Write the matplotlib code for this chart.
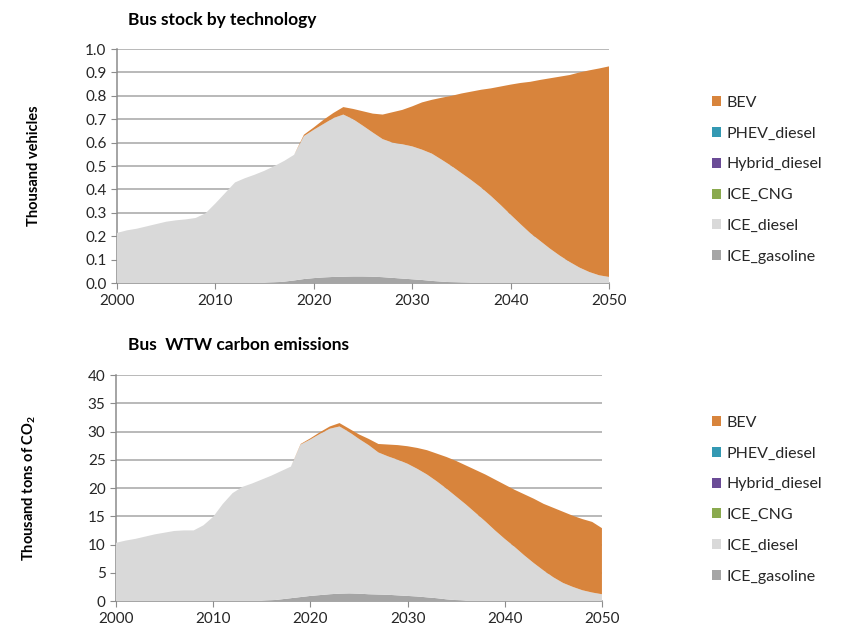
import numpy as np
import matplotlib
matplotlib.use("Agg")
import matplotlib.pyplot as plt
from matplotlib.patches import Patch

plt.rcParams['font.family'] = ['Lato', 'DejaVu Sans']

years = list(range(2000, 2051))

# bus stock, thousand vehicles
stock_gasoline = [0]*16 + [0.002, 0.006, 0.011, 0.017, 0.021, 0.024, 0.026, 0.027, 0.028, 0.028,
                           0.027, 0.025, 0.022, 0.019, 0.016, 0.013, 0.009, 0.006, 0.003, 0.001] + [0]*15
stock_diesel = [0.214, 0.225, 0.232, 0.242, 0.252, 0.262, 0.268, 0.272, 0.278, 0.298,
                0.340, 0.385, 0.430, 0.448, 0.463, 0.480, 0.498, 0.516, 0.537, 0.611,
                0.634, 0.656, 0.679, 0.693, 0.672, 0.644, 0.616, 0.590, 0.578, 0.574,
                0.568, 0.557, 0.544, 0.521, 0.497, 0.469, 0.440, 0.408, 0.372, 0.333,
                0.292, 0.252, 0.213, 0.180, 0.147, 0.117, 0.090, 0.066, 0.047, 0.033,
                0.026]
stock_cng = [0]*51
stock_hybrid = [0]*51
stock_phev = [0]*51
stock_bev = [0]*19 + [0.006, 0.010, 0.018, 0.022, 0.032, 0.044, 0.062, 0.081, 0.105, 0.130, 0.147,
                      0.171, 0.202, 0.230, 0.265, 0.300, 0.340, 0.378, 0.418, 0.460, 0.507,
                      0.556, 0.603, 0.647, 0.688, 0.728, 0.765, 0.799, 0.834, 0.862, 0.884,
                      0.900]

# well-to-wheel emissions, thousand tons CO2
co2_gasoline = [0]*16 + [0.1, 0.3, 0.5, 0.7, 0.9, 1.05, 1.2, 1.3, 1.35, 1.3,
                         1.2, 1.15, 1.1, 1.0, 0.9, 0.8, 0.65, 0.5, 0.3, 0.15] + [0]*15
co2_diesel = [10.3, 10.7, 11.0, 11.4, 11.8, 12.1, 12.4, 12.5, 12.5, 13.4,
              14.9, 17.2, 19.1, 20.2, 20.8, 21.5, 22.1, 22.7, 23.3, 27.0,
              27.7, 28.55, 29.3, 29.6, 28.55, 27.4, 26.4, 25.15, 24.5, 24.0,
              23.4, 22.6, 21.75, 20.7, 19.6, 18.35, 17.1, 15.6, 14.1, 12.5,
              11.0, 9.6, 8.1, 6.7, 5.4, 4.2, 3.2, 2.5, 1.9, 1.5,
              1.2]
co2_cng = [0]*51
co2_hybrid = [0]*51
co2_phev = [0]*51
co2_bev = [0]*19 + [0.1, 0.2, 0.3, 0.4, 0.6, 0.6, 0.8, 1.1, 1.5, 2.1, 2.6,
                    3.1, 3.7, 4.3, 4.9, 5.6, 6.3, 6.9, 7.6, 8.3, 9.0,
                    9.6, 10.1, 10.8, 11.4, 11.8, 12.3, 12.6, 12.6, 12.6, 12.5,
                    11.7]

labels = ['ICE_gasoline', 'ICE_diesel', 'ICE_CNG', 'Hybrid_diesel', 'PHEV_diesel', 'BEV']
colors = ['#a5a5a5', '#d9d9d9', '#8aaa4e', '#6a4b96', '#3399b3', '#d8843c']

fig = plt.figure(figsize=(8.44, 6.37), dpi=100)
ax1 = fig.add_axes([0.1386, 0.5557, 0.5830, 0.3673])
ax2 = fig.add_axes([0.1374, 0.0565, 0.5758, 0.3547])


def style_axis(ax, ymax, step, fmt):
    ax.set_xlim(2000, 2050)
    ax.set_ylim(0, ymax)
    ax.set_xticks(range(2000, 2051, 10))
    ax.set_yticks(np.arange(0, ymax + step / 2, step))
    ax.yaxis.set_major_formatter(plt.FormatStrFormatter(fmt))
    ax.grid(axis='y', color='#a6a6a6', linewidth=1.1)
    ax.set_axisbelow(True)
    for s in ['top', 'right']:
        ax.spines[s].set_visible(False)
    for s in ['left', 'bottom']:
        ax.spines[s].set_color('#8c8c8c')
        ax.spines[s].set_linewidth(1.1)
    ax.tick_params(axis='both', colors='#8c8c8c', labelcolor='#262626', labelsize=11, length=4)
    ax.tick_params(axis='x', pad=4)


ax1.stackplot(years, stock_gasoline, stock_diesel, stock_cng, stock_hybrid, stock_phev, stock_bev,
              colors=colors, linewidth=0, zorder=3)
style_axis(ax1, 1.0, 0.1, '%.1f')
ax1.set_ylabel('Thousand vehicles', fontsize=10.5, fontweight='bold', labelpad=32)
fig.text(0.152, 0.968, 'Bus stock by technology', fontsize=12.5, fontweight='bold', va='center')

ax2.stackplot(years, co2_gasoline, co2_diesel, co2_cng, co2_hybrid, co2_phev, co2_bev,
              colors=colors, linewidth=0, zorder=3)
style_axis(ax2, 40, 5, '%d')
ax2.set_ylabel(r'Thousand tons of CO$_\mathregular{2}$', fontsize=10.5, fontweight='bold', labelpad=36)
fig.text(0.152, 0.459, 'Bus  WTW carbon emissions', fontsize=12.5, fontweight='bold', va='center')

handles = [Patch(facecolor=c, edgecolor='none') for c in colors][::-1]
names = labels[::-1]
for y in [0.872, 0.370]:
    fig.legend(handles, names, loc='upper left', bbox_to_anchor=(0.826, y),
               frameon=False, fontsize=11.5, handlelength=0.6, handleheight=0.6,
               handletextpad=0.35, labelspacing=1.05, labelcolor='#262626')

fig.savefig('out.png', dpi=100)
